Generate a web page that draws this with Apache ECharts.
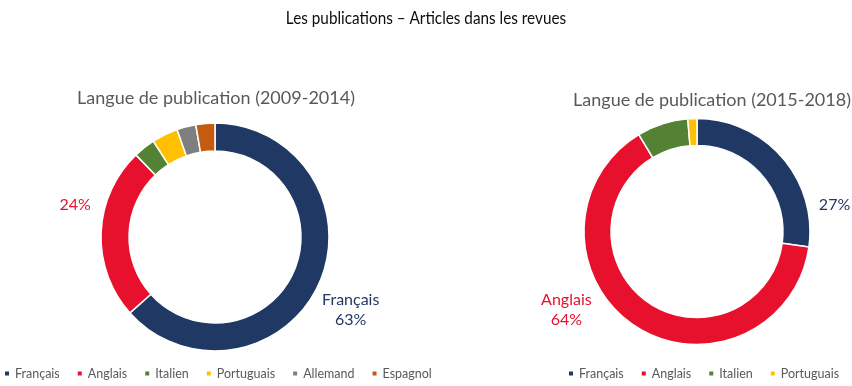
<!DOCTYPE html>
<html>
<head>
<meta charset="utf-8">
<script src="https://cdn.jsdelivr.net/npm/echarts@6/dist/echarts.min.js"></script>
<style>
html,body{margin:0;padding:0;background:#fff;}
#chart{width:852px;height:386px;}
</style>
</head>
<body>
<div id="chart"></div>
<script>
// ---- data ----
const mainTitle = 'Les publications – Articles dans les revues';
const subTitles = ['Langue de publication (2009-2014)', 'Langue de publication (2015-2018)'];
const names1 = ['Français', 'Anglais', 'Italien', 'Portuguais', 'Allemand', 'Espagnol'];
const values1 = [63.4, 24.4, 3.1, 3.7, 2.7, 2.7];
const names2 = ['Français', 'Anglais', 'Italien', 'Portuguais'];
const values2 = [27.2, 64.2, 7.3, 1.3];
const colors = {
  'Français': '#203864',
  'Anglais': '#E7112D',
  'Italien': '#548235',
  'Portuguais': '#FFC000',
  'Allemand': '#7F7F7F',
  'Espagnol': '#C55A11'
};
const FONT = 'Lato, "Open Sans", sans-serif';

// label config: which slices are labelled and how
const labels1 = {0: '{b}\n{d}%', 1: '{d}%'};
const labels2 = {0: '{d}%', 1: '{b}\n{d}%'};
const shift1 = {0: [13, 20], 1: [-6, -27]};
const shift2 = {0: [36, 57], 1: [-55, -28]};

function buildData(names, values, labels) {
  return names.map((n, i) => ({
    name: n,
    value: values[i],
    itemStyle: {color: colors[n]},
    label: labels[i] ? {
      show: true,
      formatter: labels[i],
      color: colors[n]
    } : {show: false}
  }));
}

function pieSeries(names, values, labels, shift, center, radius) {
  return {
    type: 'pie',
    center: center,
    radius: radius,
    startAngle: 90,
    clockwise: true,
    percentPrecision: 0,
    avoidLabelOverlap: false,
    emphasis: {disabled: true, scale: false},
    itemStyle: {borderColor: '#fff', borderWidth: 1.5},
    label: {
      position: 'outside',
      fontFamily: FONT,
      fontSize: 16,
      lineHeight: 20
    },
    labelLine: {show: false, length: 15, length2: 0},
    labelLayout: function (p) {
      const s = shift[p.dataIndex];
      if (!s) return {};
      return {align: 'center', verticalAlign: 'middle', dx: s[0], dy: s[1]};
    },
    data: buildData(names, values, labels)
  };
}

const legendText = {fontFamily: FONT, fontSize: 12.5, color: '#595959'};
const subText = {fontFamily: FONT, fontSize: 18, fontWeight: 'normal', color: '#595959'};

const chart = echarts.init(document.getElementById('chart'), null, {renderer: 'canvas'});
chart.setOption({
  animation: false,
  backgroundColor: '#fff',
  graphic: [{
    type: 'text',
    x: 426, y: 18,
    scaleX: 0.85,
    style: {
      text: mainTitle,
      fill: '#0d0d0d',
      font: '18px ' + FONT,
      align: 'center',
      verticalAlign: 'middle'
    }
  }],
  title: [
    {text: subTitles[0], left: 216, top: 89, textAlign: 'center', padding: 0, textStyle: subText},
    {text: subTitles[1], left: 712, top: 91, textAlign: 'center', padding: 0, textStyle: subText}
  ],
  legend: [
    {data: names1, left: 3, top: 367, padding: 0, icon: 'rect', itemWidth: 6, itemHeight: 6, itemGap: 16,
     selectedMode: false, textStyle: legendText},
    {data: names2, left: 567, top: 367, padding: 0, icon: 'rect', itemWidth: 6, itemHeight: 6, itemGap: 16,
     selectedMode: false, textStyle: legendText}
  ],
  series: [
    pieSeries(names1, values1, labels1, shift1, [215, 237], [86, 114]),
    pieSeries(names2, values2, labels2, shift2, [697, 231.5], [86, 113])
  ]
});
</script>
</body>
</html>
